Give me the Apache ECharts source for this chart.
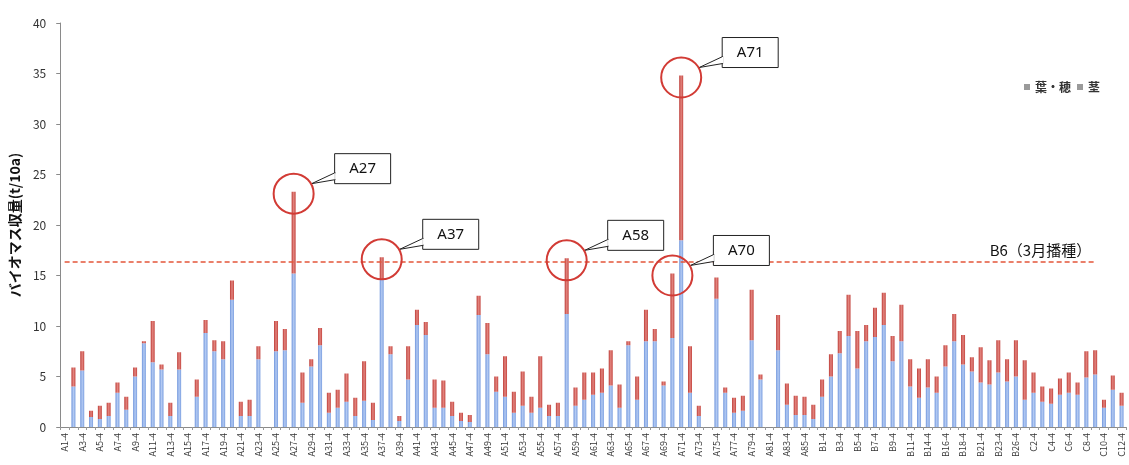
<!DOCTYPE html>
<html>
<head>
<meta charset="utf-8">
<script src="https://cdn.jsdelivr.net/npm/echarts@6/dist/echarts.min.js"></script>
<style>
html,body{margin:0;padding:0;background:#fff;}
#c{width:1129px;height:465px;}
</style>
</head>
<body>
<div id="c"></div>
<script>
const categories = [
'A1-4','A2-4','A3-4','A4-4','A5-4','A6-4','A7-4','A8-4','A9-4','A10-4',
'A11-4','A12-4','A13-4','A14-4','A15-4','A16-4','A17-4','A18-4','A19-4','A20-4',
'A21-4','A22-4','A23-4','A24-4','A25-4','A26-4','A27-4','A28-4','A29-4','A30-4',
'A31-4','A32-4','A33-4','A34-4','A35-4','A36-4','A37-4','A38-4','A39-4','A40-4',
'A41-4','A42-4','A43-4','A44-4','A45-4','A46-4','A47-4','A48-4','A49-4','A50-4',
'A51-4','A52-4','A53-4','A54-4','A55-4','A56-4','A57-4','A58-4','A59-4','A60-4',
'A61-4','A62-4','A63-4','A64-4','A65-4','A66-4','A67-4','A68-4','A69-4','A70-4',
'A71-4','A72-4','A73-4','A74-4','A75-4','A76-4','A77-4','A78-4','A79-4','A80-4',
'A81-4','A82-4','A83-4','A84-4','A85-4','A86-4',
'B1-4','B2-4','B3-4','B4-4','B5-4','B6-4','B7-4','B8-4','B9-4','B10-4',
'B11-4','B12-4','B14-4','B15-4','B16-4','B17-4','B18-4','B19-4','B21-4','B22-4',
'B23-4','B24-4','B26-4',
'C1-4','C2-4','C3-4','C4-4','C5-4','C6-4','C7-4','C8-4','C9-4','C10-4','C11-4','C12-4'
];

// 茎 (lower, blue)
const stem = [
null,4.0,5.6,1.0,0.8,1.1,3.4,1.7,5.0,8.3,
6.4,5.7,1.1,5.7,null,3.0,9.3,7.5,6.7,12.6,
1.1,1.1,6.7,null,7.5,7.6,15.2,2.4,6.0,8.1,
1.4,1.9,2.5,1.1,2.6,0.7,14.6,7.2,0.6,4.7,
10.1,9.1,1.9,1.9,1.1,0.6,0.5,11.1,7.2,3.5,
3.0,1.4,2.1,1.4,1.9,1.1,1.1,11.2,2.1,2.7,
3.2,3.4,4.1,1.9,8.1,2.7,8.5,8.5,4.1,8.8,
18.5,3.4,1.1,null,12.7,3.4,1.4,1.6,8.6,4.7,
null,7.6,2.2,1.2,1.2,0.8,
3.0,5.0,7.3,9.0,5.8,8.5,8.9,10.1,6.5,8.5,
4.0,2.9,3.9,3.4,6.0,8.5,6.2,5.5,4.4,4.2,
5.4,4.5,5.0,
2.7,3.4,2.5,2.3,3.2,3.4,3.2,4.9,5.2,1.9,3.7,2.1
];

// 葉・穂 (upper, red)
const leaf = [
null,1.9,1.9,0.6,1.3,1.3,1.0,1.3,0.9,0.2,
4.1,0.5,1.3,1.7,null,1.7,1.3,1.1,1.8,1.9,
1.4,1.6,1.3,null,3.0,2.1,8.1,3.0,0.7,1.7,
2.0,1.8,2.8,1.8,3.9,1.7,2.2,0.8,0.5,3.3,
1.5,1.3,2.8,2.7,1.4,0.8,0.7,1.9,3.1,1.5,
4.0,2.1,3.4,1.6,5.1,1.1,1.3,5.5,1.8,2.7,
2.2,2.4,3.5,2.3,0.4,2.3,3.1,1.2,0.4,6.4,
16.3,4.6,1.0,null,2.1,0.5,1.5,1.5,5.0,0.5,
null,3.5,2.1,1.9,1.8,1.4,
1.7,2.2,2.2,4.1,3.7,1.6,2.9,3.2,2.5,3.6,
2.7,2.9,2.8,1.6,2.1,2.7,2.9,1.4,3.5,2.4,
3.2,2.2,3.6,
3.9,2.0,1.5,1.5,1.6,2.0,1.2,2.6,2.4,0.8,1.4,1.3
];

const refValue = 16.4;
const refLabel = 'B6（3月播種）';
const refStart = 'A1-4';
const refEnd = 'C9-4';

const callouts = ['A27-4','A37-4','A58-4','A70-4','A71-4'];
const calloutLabels = ['A27','A37','A58','A70','A71'];

const FONT = "'Noto Sans CJK JP', 'Noto Sans', sans-serif";
const chart = echarts.init(document.getElementById('c'));

const blue = new echarts.graphic.LinearGradient(0,0,1,0,[
  {offset:0,color:'#6f95dc'},{offset:0.5,color:'#b3caf3'},{offset:1,color:'#7b9fe0'}]);
const red = new echarts.graphic.LinearGradient(0,0,1,0,[
  {offset:0,color:'#bc3b36'},{offset:0.5,color:'#e3857f'},{offset:1,color:'#c4443e'}]);

chart.setOption({
  animation:false,
  textStyle:{fontFamily:FONT},
  grid:{left:59,right:3,top:23,bottom:38,containLabel:false},
  legend:{
    left:1019, top:76, itemWidth:6, itemHeight:6, itemGap:6, icon:'rect',
    textStyle:{fontSize:12,fontWeight:'bold',color:'#333',fontFamily:FONT},
    data:[{name:'葉・穂',itemStyle:{color:'#9a9a9a'}},{name:'茎',itemStyle:{color:'#9a9a9a'}}]
  },
  xAxis:{
    type:'category', data:categories,
    axisLine:{lineStyle:{color:'#8a8a8a'}},
    axisTick:{show:true,interval:0,length:3,lineStyle:{color:'#9a9a9a'}},
    axisLabel:{rotate:90,interval:1,fontSize:9,color:'#333',margin:6,fontFamily:FONT}
  },
  yAxis:{
    type:'value', min:0, max:40, interval:5,
    name:'バイオマス収量(t/10a)', nameLocation:'middle', nameGap:36, nameRotate:90,
    nameTextStyle:{fontSize:14,fontWeight:'bold',color:'#111',fontFamily:FONT},
    axisLine:{show:true,lineStyle:{color:'#8a8a8a'}},
    axisTick:{show:true,length:4,lineStyle:{color:'#8a8a8a'}},
    axisLabel:{fontSize:12,color:'#333',margin:14,fontFamily:FONT},
    splitLine:{show:false}
  },
  series:[
    {name:'茎',type:'bar',stack:'t',data:stem,barWidth:4,itemStyle:{color:blue}},
    {name:'葉・穂',type:'bar',stack:'t',data:leaf,barWidth:4,itemStyle:{color:red},
     markLine:{
       silent:true, symbol:['none','none'],
       lineStyle:{type:[5,3],color:'#e4553a',width:1.5},
       label:{show:true,position:'insideEndTop',formatter:refLabel,fontSize:15,color:'#111',fontFamily:FONT,distance:4},
       data:[[{coord:[refStart,refValue]},{coord:[refEnd,refValue]}]]
     }}
  ]
});

function addCallouts(){
  const els = [];
  callouts.forEach((c,i)=>{
    const idx = categories.indexOf(c);
    const total = stem[idx] + leaf[idx];
    const p = chart.convertToPixel({gridIndex:0},[c,total]);
    const cx = p[0], cy = p[1] + 2;
    const r = 20;
    const bw = 56, bh = 30;
    const bl = cx + 41, bt = cy - 40;
    els.push({type:'rect',shape:{x:bl,y:bt,width:bw,height:bh},
      style:{fill:'#fff',stroke:'#222',lineWidth:1},z:100});
    els.push({type:'polygon',shape:{points:[[cx+18,cy-10],[bl+0.5,bt+bh-11],[bl+0.5,bt+bh-4]]},
      style:{fill:'#fff',stroke:'#222',lineWidth:1},z:101});
    els.push({type:'line',shape:{x1:bl+0.5,y1:bt+bh-10.5,x2:bl+0.5,y2:bt+bh-4.5},
      style:{stroke:'#fff',lineWidth:1.5},z:102});
    els.push({type:'text',style:{text:calloutLabels[i],x:bl+bw/2,y:bt+bh/2,align:'center',verticalAlign:'middle',
      font:"15px 'Noto Sans', 'Noto Sans CJK JP', sans-serif",fill:'#111'},z:103});
    els.push({type:'circle',shape:{cx:cx,cy:cy,r:r},
      style:{fill:'none',stroke:'#d23b35',lineWidth:2},z:104});
  });
  chart.setOption({graphic:els});
}
addCallouts();
</script>
</body>
</html>
